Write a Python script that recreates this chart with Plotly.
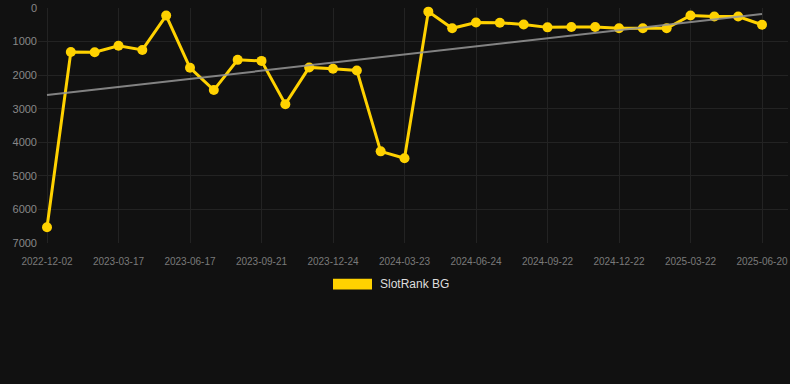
import numpy as np
import plotly.graph_objects as go

dates = [
    "2022-12-02", "2023-01-06", "2023-02-10", "2023-03-17", "2023-04-17", "2023-05-17",
    "2023-06-17", "2023-07-19", "2023-08-20", "2023-09-21", "2023-10-23", "2023-11-23",
    "2023-12-24", "2024-01-23", "2024-02-22", "2024-03-23", "2024-04-23", "2024-05-24",
    "2024-06-24", "2024-07-24", "2024-08-23", "2024-09-22", "2024-10-22", "2024-11-21",
    "2024-12-22", "2025-01-21", "2025-02-20", "2025-03-22", "2025-04-21", "2025-05-21",
    "2025-06-20",
]
ranks = [
    6530, 1310, 1320, 1125, 1250, 225, 1780, 2445, 1545, 1575, 2865, 1770,
    1810, 1860, 4270, 4475, 108, 605, 430, 440, 490, 577, 567, 567,
    605, 605, 605, 225, 255, 255, 500,
]
tick_labels = dates[::3]
y_ticks = [0, 1000, 2000, 3000, 4000, 5000, 6000, 7000]
series_name = "SlotRank BG"

idx = np.arange(len(ranks))
slope, intercept = np.polyfit(idx, ranks, 1)
trend = slope * idx + intercept

YELLOW = "#FFD200"
BG = "#111111"
GRID = "#232323"

fig = go.Figure()
fig.add_trace(go.Scatter(
    x=dates, y=ranks, mode="lines+markers",
    line=dict(color=YELLOW, width=3),
    marker=dict(color=YELLOW, size=10),
    showlegend=False, cliponaxis=False,
))
fig.add_trace(go.Scatter(
    x=dates, y=trend, mode="lines",
    line=dict(color="rgba(150,150,150,0.85)", width=2),
    showlegend=False, hoverinfo="skip",
))

L, R, T, B = 38, 2, 6, 141
W, H = 790, 384
pw = W - L - R
ph = H - T - B
n = len(dates)
# plot-area pixel positions of first / last category
x0_px, x1_px = 47 - L, 762 - L
step = (x1_px - x0_px) / (n - 1)
xr = [-x0_px / step, (n - 1) + (pw - x1_px) / step]

fig.update_layout(
    width=W, height=H,
    margin=dict(l=L, r=R, t=T, b=B),
    paper_bgcolor=BG, plot_bgcolor=BG,
    font=dict(family="Arial, Liberation Sans, sans-serif", color="#888888"),
    xaxis=dict(
        type="category", range=xr,
        tickmode="array", tickvals=tick_labels, ticktext=tick_labels,
        showgrid=True, gridcolor=GRID, gridwidth=1,
        tickfont=dict(size=10, color="#7a7a7a"),
        showline=False, zeroline=False,
        ticks="outside", ticklen=9, tickcolor=BG,
        ticklabeloverflow="allow",
    ),
    yaxis=dict(
        range=[7000, 0], tickvals=y_ticks,
        showgrid=True, gridcolor=GRID, gridwidth=1,
        tickfont=dict(size=11, color="#888888"),
        zeroline=False, showline=False, ticks="", ticklen=0,
        ticklabeloverflow="allow",
    ),
)

# custom legend: wide rectangle + label
def px_x(px):
    return (px - L) / pw

def px_y(py):
    return (T + ph - py) / ph

fig.add_shape(type="rect", xref="paper", yref="paper",
              x0=px_x(333), x1=px_x(372), y0=px_y(290), y1=px_y(279),
              fillcolor=YELLOW, line=dict(width=0))
fig.add_annotation(xref="paper", yref="paper", x=px_x(378), y=px_y(284.5),
                   text=series_name, showarrow=False, xanchor="left", yanchor="middle",
                   font=dict(size=12, color="#dddddd"))

fig.write_html("out.html")
